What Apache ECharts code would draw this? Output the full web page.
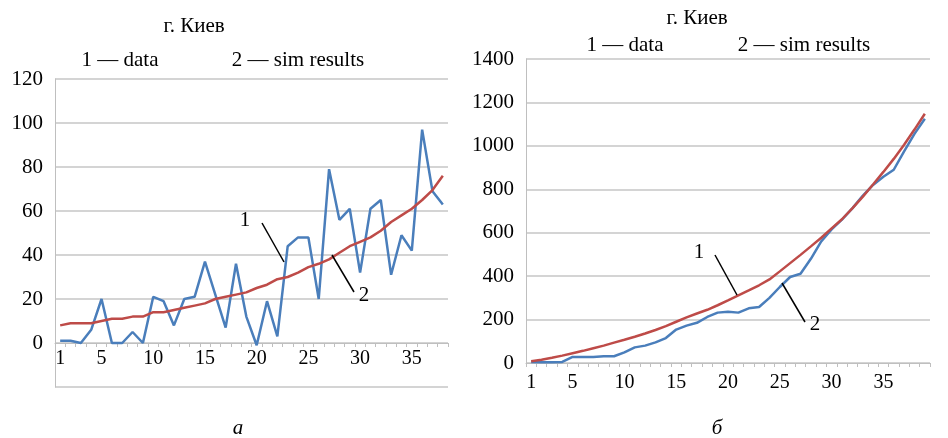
<!DOCTYPE html>
<html>
<head>
<meta charset="utf-8">
<script src="https://cdn.jsdelivr.net/npm/echarts@6/dist/echarts.min.js"></script>
<style>
html,body{margin:0;padding:0;background:#fff;}
#c{width:948px;height:438px;}
</style>
</head>
<body>
<div id="c"></div>
<script>
// ---- data ----
const leftCategories = ['1','2','3','4','5','6','7','8','9','10','11','12','13','14','15','16','17','18','19','20','21','22','23','24','25','26','27','28','29','30','31','32','33','34','35','36','37','38'];
const leftData = [1,1,0,6,20,0,0,5,0,21,19,8,20,21,37,22,7,36,12,-1,19,3,44,48,48,20,79,56,61,32,61,65,31,49,42,97,69,63];
const leftSim = [8,9,9,9,10,11,11,12,12,14,14,15,16,17,18,20,21,22,23,25,26.5,29,30,32,34.5,36,38,41,44,46,48,51,55,58,61,65,69.5,76];

const rightCategories = ['1','2','3','4','5','6','7','8','9','10','11','12','13','14','15','16','17','18','19','20','21','22','23','24','25','26','27','28','29','30','31','32','33','34','35','36','37','38','39'];
const rightData = [5,3,3,5,28,28,28,31,31,49,72,80,95,115,154,172,185,212,232,236,232,252,258,300,350,396,411,480,560,615,660,712,770,820,858,890,975,1055,1125];
const rightSim = [8,15,24,34,45,56,68,80,94,107,121,136,152,170,190,210,228,245,266,288,311,334,358,385,422,460,498,537,577,620,662,712,765,822,880,940,1005,1075,1148];

const leftYTicks = {min: -20, max: 120, interval: 20};
const rightYTicks = {min: 0, max: 1400, interval: 200};

const titleText = 'г. Киев';
const legend1 = '1 — data';
const legend2 = '2 — sim results';

// ---- styles ----
const FONT = 'Liberation Serif';
const BLUE = '#4A7EBB';
const RED = '#BE4B48';
const GRID = '#D4D4D4';
const AXIS = '#BFBFBF';

const G0 = {left: 55, top: 79, width: 393, height: 308};
const G1 = {left: 526, top: 59, width: 404, height: 304};

const labelShown = (idx) => idx === 0 || (idx + 1) % 5 === 0;

function xAxis(gridIndex, cats, offset, margin) {
  return {
    type: 'category', gridIndex, data: cats, boundaryGap: true, position: 'bottom', offset,
    axisLine: {show: true, onZero: false, lineStyle: {color: AXIS, width: 1}},
    axisTick: {show: true, interval: 0, length: 4, lineStyle: {color: AXIS}},
    axisLabel: {interval: labelShown, color: '#000', fontFamily: FONT, fontSize: 20, margin},
    splitLine: {show: false}
  };
}
function yAxis(gridIndex, t) {
  return {
    type: 'value', gridIndex, min: t.min, max: t.max, interval: t.interval,
    axisLine: {show: true, lineStyle: {color: AXIS, width: 1}},
    axisTick: {show: false},
    axisLabel: {color: '#000', fontFamily: FONT, fontSize: 21, margin: 12,
      formatter: v => v < 0 ? '' : String(v)},
    splitLine: {show: true, lineStyle: {color: GRID, width: 2}}
  };
}
function line(xi, yi, data, color, z) {
  return {type: 'line', xAxisIndex: xi, yAxisIndex: yi, data, symbol: 'none',
    lineStyle: {color, width: 2.5}, z, animation: false};
}

// offset that places the left category axis on the y = 0 line
const zeroOffset = -G0.height * (0 - leftYTicks.min) / (leftYTicks.max - leftYTicks.min);

const chart = echarts.init(document.getElementById('c'), null, {renderer: 'canvas'});

const st = (t, italic) => ({text: t, font: (italic ? 'italic ' : '') + '21px "' + FONT + '"', fill: '#000', textAlign: 'center', textVerticalAlign: 'middle'});
const txt = (x, y, t, italic) => ({type: 'text', x, y, z: 100, style: st(t, italic)});
const seg = (x1, y1, x2, y2) => ({type: 'line', shape: {x1, y1, x2, y2}, style: {stroke: '#000', lineWidth: 1.5}, z: 100});

chart.setOption({
  animation: false,
  grid: [G0, G1],
  xAxis: [xAxis(0, leftCategories, zeroOffset, 6), xAxis(1, rightCategories, 0, 10)],
  yAxis: [yAxis(0, leftYTicks), yAxis(1, rightYTicks)],
  series: [
    line(0, 0, leftData, BLUE, 2),
    line(0, 0, leftSim, RED, 3),
    line(1, 1, rightData, BLUE, 2),
    line(1, 1, rightSim, RED, 3)
  ],
  graphic: [
    txt(194, 26, titleText),
    txt(120, 60, legend1),
    txt(298, 60, legend2),
    txt(697, 18, titleText),
    txt(625, 45, legend1),
    txt(804, 45, legend2),
    txt(245, 220, '1'),
    seg(262, 223, 284, 262),
    txt(364, 295, '2'),
    seg(332, 255, 354, 292),
    txt(699, 252, '1'),
    seg(715, 255, 737, 295),
    txt(815, 324, '2'),
    seg(782, 283, 805, 322),
    txt(238, 428, 'а', true),
    txt(717, 428, 'б', true)
  ]
});
</script>
</body>
</html>
